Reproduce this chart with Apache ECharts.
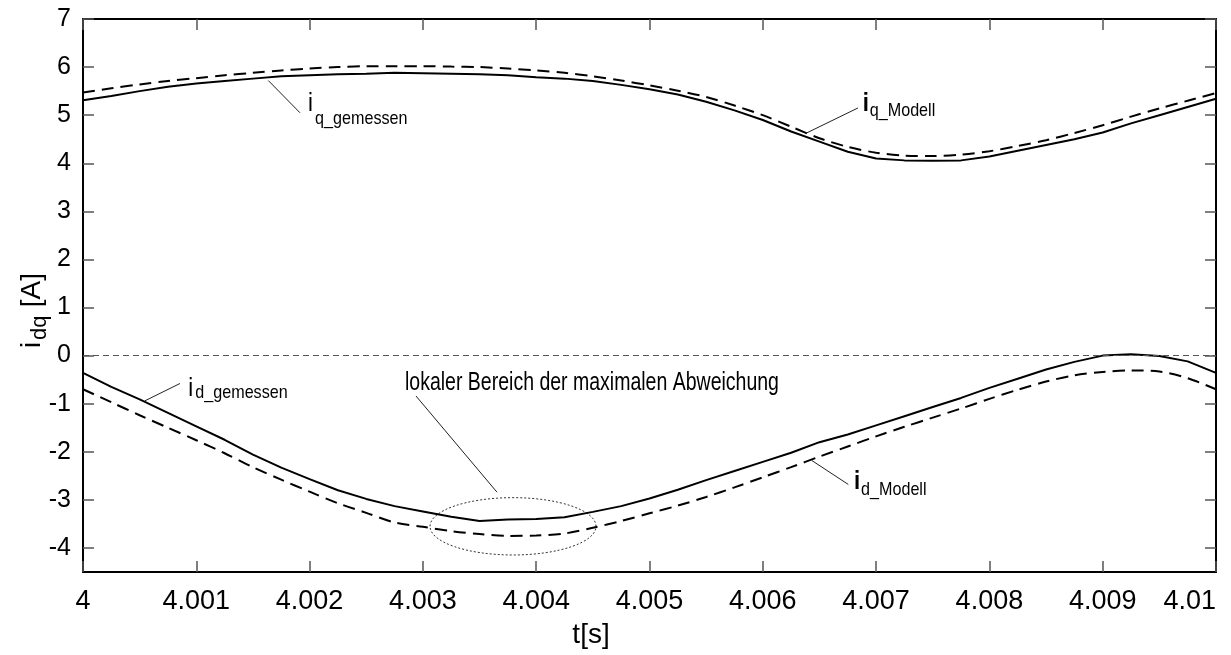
<!doctype html>
<html>
<head>
<meta charset="utf-8">
<title>i_dq - Messung und Modell</title>
<style>
html, body { margin: 0; padding: 0; background: #fff; }
#main { width: 1231px; height: 655px; }
</style>
</head>
<body>
<div id="main"></div>
<script src="https://cdn.jsdelivr.net/npm/echarts@6/dist/echarts.min.js"></script>
<script>
// time offset from t = 4 s, in milliseconds
var timeMs = [0, 0.25, 0.5, 0.75, 1, 1.25, 1.5, 1.75, 2, 2.25, 2.5, 2.75, 3, 3.25, 3.5, 3.75,
    4, 4.25, 4.5, 4.75, 5, 5.25, 5.5, 5.75, 6, 6.25, 6.5, 6.75, 7, 7.25, 7.5, 7.75,
    8, 8.25, 8.5, 8.75, 9, 9.25, 9.5, 9.75, 10];

var iqGemessen = [5.31, 5.40, 5.50, 5.59, 5.66, 5.71, 5.76, 5.81, 5.83, 5.85, 5.86, 5.88, 5.87, 5.86, 5.85, 5.83,
    5.79, 5.76, 5.71, 5.63, 5.54, 5.43, 5.28, 5.10, 4.90, 4.66, 4.45, 4.24, 4.10, 4.06, 4.05, 4.06,
    4.14, 4.26, 4.38, 4.50, 4.64, 4.83, 5.00, 5.17, 5.34];

var iqModell = [5.47, 5.56, 5.64, 5.71, 5.77, 5.83, 5.88, 5.93, 5.97, 6.00, 6.02, 6.02, 6.02, 6.01, 6.00, 5.97,
    5.93, 5.88, 5.81, 5.72, 5.62, 5.51, 5.38, 5.20, 5.00, 4.76, 4.52, 4.34, 4.22, 4.16, 4.15, 4.18,
    4.25, 4.36, 4.48, 4.63, 4.79, 4.97, 5.14, 5.30, 5.46];

var idGemessen = [-0.36, -0.65, -0.91, -1.19, -1.47, -1.75, -2.06, -2.33, -2.57, -2.80, -2.98, -3.13, -3.24, -3.35, -3.44, -3.41,
    -3.40, -3.36, -3.25, -3.13, -2.97, -2.79, -2.59, -2.40, -2.21, -2.02, -1.80, -1.64, -1.45, -1.26, -1.07, -0.88,
    -0.67, -0.48, -0.29, -0.13, 0.00, 0.03, -0.01, -0.12, -0.36];

var idModell = [-0.70, -0.97, -1.24, -1.50, -1.76, -2.03, -2.32, -2.58, -2.83, -3.07, -3.27, -3.47, -3.56, -3.65, -3.71, -3.75,
    -3.74, -3.70, -3.58, -3.44, -3.28, -3.12, -2.94, -2.74, -2.53, -2.32, -2.10, -1.89, -1.68, -1.48, -1.29, -1.10,
    -0.90, -0.71, -0.54, -0.41, -0.34, -0.31, -0.33, -0.47, -0.70];

var yTicks = [-4, -3, -2, -1, 0, 1, 2, 3, 4, 5, 6, 7];

var FONT = '"Liberation Sans", Arial, Helvetica, sans-serif';

var chart = echarts.init(document.getElementById('main'));

function pairs(vals) {
    return timeMs.map(function (ms, i) {
        return [+(4 + ms / 1000).toFixed(6), vals[i]];
    });
}

var frameLine = { show: true, onZero: false, lineStyle: { color: '#000', width: 2 } };
var innerTick = { show: true, inside: true, length: 11, lineStyle: { color: '#555', width: 1.5 } };

function xAxisDef(pos, labels) {
    return {
        type: 'value', position: pos, min: 4, max: 4.01, interval: 0.001,
        axisLine: frameLine, axisTick: innerTick, splitLine: { show: false },
        axisLabel: {
            show: labels, margin: 16, fontSize: 27, fontFamily: FONT, color: '#000',
            showMinLabel: true, showMaxLabel: true, alignMaxLabel: 'right',
            formatter: function (v) { return String(+v.toFixed(3)); }
        }
    };
}

function yAxisDef(pos, labels) {
    return {
        type: 'value', position: pos, min: -4.5, max: 7,
        axisLine: frameLine,
        axisTick: Object.assign({ customValues: yTicks }, innerTick),
        splitLine: { show: false },
        axisLabel: {
            show: labels, customValues: yTicks, margin: 12,
            fontSize: 25, fontFamily: FONT, color: '#000'
        }
    };
}

var solid = { color: '#000', width: 2, type: 'solid' };
var dashed = { color: '#000', width: 2, type: [12, 7] };

chart.setOption({
    animation: false,
    backgroundColor: '#fff',
    grid: { left: 83, right: 15, top: 19, bottom: 83, containLabel: false, outerBoundsMode: 'none' },
    xAxis: [xAxisDef('bottom', true), xAxisDef('top', false)],
    yAxis: [yAxisDef('left', true), yAxisDef('right', false)],
    series: [
        {
            name: 'iq_gemessen', type: 'line', data: pairs(iqGemessen),
            symbol: 'none', lineStyle: solid, itemStyle: { color: '#000' },
            markLine: {
                silent: true, symbol: ['none', 'none'], label: { show: false },
                lineStyle: { color: '#555', width: 1, type: [6, 4] },
                data: [{ yAxis: 0 }]
            }
        },
        {
            name: 'iq_Modell', type: 'line', data: pairs(iqModell), smooth: 0.3,
            symbol: 'none', lineStyle: dashed, itemStyle: { color: '#000' }
        },
        {
            name: 'id_gemessen', type: 'line', data: pairs(idGemessen),
            symbol: 'none', lineStyle: solid, itemStyle: { color: '#000' }
        },
        {
            name: 'id_Modell', type: 'line', data: pairs(idModell), smooth: 0.3,
            symbol: 'none', lineStyle: dashed, itemStyle: { color: '#000' }
        }
    ]
});

// annotations, anchored in data coordinates (ms offset, value)
function px(p) {
    return chart.convertToPixel({ xAxisIndex: 0, yAxisIndex: 0 }, [4 + p[0] / 1000, p[1]]);
}

function txt(x, y, text, size, opts) {
    opts = opts || {};
    return {
        type: 'text', x: x, y: y, scaleX: opts.scaleX || 1, silent: true,
        rotation: opts.rotation || 0,
        style: {
            text: text, fontSize: size, fontFamily: FONT, fontWeight: opts.bold ? 'bold' : 'normal',
            fill: '#000', align: opts.align || 'left', verticalAlign: 'middle',
            textAlign: opts.align || 'left', textVerticalAlign: 'middle'
        }
    };
}

var curveLabels = [
    { at: [1.986, 5.23], sub: 'q_gemessen', dx: 7, dy: 15, bold: false, line: [[1.636, 5.72], [1.915, 5.05]] },
    { at: [6.882, 5.24], sub: 'q_Modell', dx: 7, dy: 7, bold: true, line: [[6.387, 4.63], [6.840, 5.15]] },
    { at: [0.929, -0.69], sub: 'd_gemessen', dx: 7, dy: 4, bold: false, line: [[0.547, -0.94], [0.856, -0.58]] },
    { at: [6.805, -2.63], sub: 'd_Modell', dx: 7, dy: 8, bold: true, line: [[6.432, -2.18], [6.755, -2.68]] }
];

var graphics = [];
curveLabels.forEach(function (a) {
    var p0 = px(a.line[0]), p1 = px(a.line[1]), pi = px(a.at);
    graphics.push({
        type: 'line', silent: true,
        shape: { x1: p0[0], y1: p0[1], x2: p1[0], y2: p1[1] },
        style: { stroke: '#222', lineWidth: 1 }
    });
    graphics.push(txt(pi[0], pi[1], 'i', 26, { bold: a.bold, scaleX: 0.85 }));
    graphics.push(txt(pi[0] + a.dx, pi[1] + a.dy, a.sub, 19, { scaleX: 0.85 }));
});

// "lokaler Bereich der maximalen Abweichung" with its leader and ellipse
var lt = px([2.842, -0.57]);
graphics.push(txt(lt[0], lt[1], 'lokaler Bereich der maximalen Abweichung', 25, { scaleX: 0.78 }));
var l0 = px([2.939, -0.84]), l1 = px([3.654, -2.84]);
graphics.push({
    type: 'line', silent: true,
    shape: { x1: l0[0], y1: l0[1], x2: l1[0], y2: l1[1] },
    style: { stroke: '#222', lineWidth: 1 }
});
var eL = px([3.063, -3.55]), eR = px([4.528, -3.55]), eT = px([3.795, -2.954]), eB = px([3.795, -4.146]);
graphics.push({
    type: 'ellipse', silent: true,
    shape: { cx: (eL[0] + eR[0]) / 2, cy: (eT[1] + eB[1]) / 2, rx: (eR[0] - eL[0]) / 2, ry: (eB[1] - eT[1]) / 2 },
    style: { fill: 'none', stroke: '#333', lineWidth: 1, lineDash: [2, 2] }
});

// axis titles
var bottomY = 655 - 83;
var xt = px([4.484, 0]);
graphics.push(txt(xt[0], bottomY + 63, 't[s]', 28, { align: 'center' }));

graphics.push({
    type: 'group', x: 32, y: 348, rotation: Math.PI / 2, silent: true,
    children: [
        txt(0, 0, 'i', 28),
        txt(8, 8, 'dq', 22),
        txt(33, 0, ' [A]', 28)
    ]
});

chart.setOption({ graphic: graphics });

window.addEventListener('resize', function () {
    chart.resize();
});
</script>
</body>
</html>
